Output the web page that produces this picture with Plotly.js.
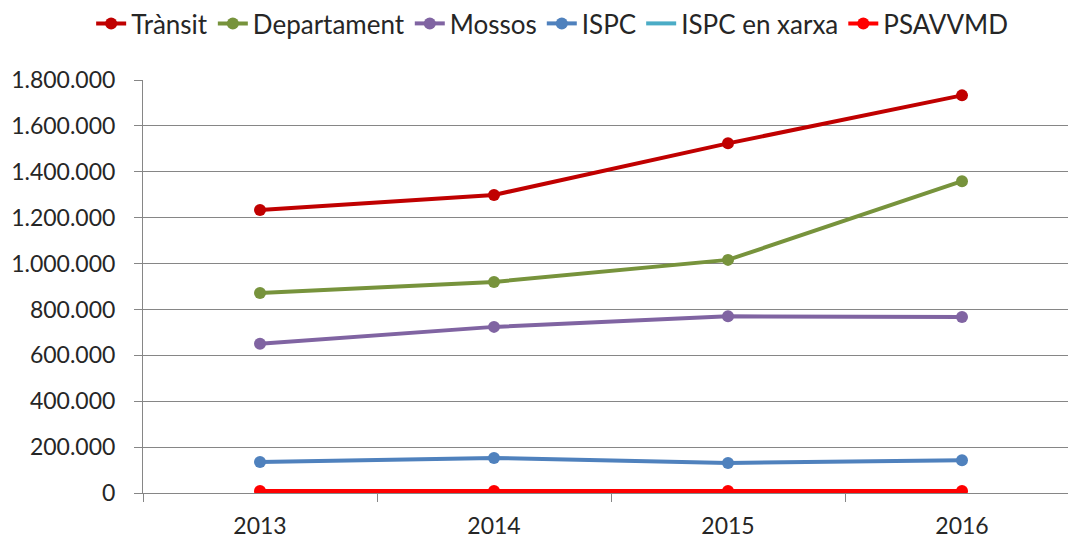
<!DOCTYPE html>
<html><head><meta charset="utf-8">
<script src="https://cdn.plot.ly/plotly-3.0.1.min.js"></script>
<style>body{margin:0;background:#fff}#chart{width:1068px;height:538px}</style>
</head><body><div id="chart"></div>
<script>
const years = ["2013", "2014", "2015", "2016"];
const transit = [1233000, 1299000, 1524000, 1733000];
const departament = [872000, 920000, 1016000, 1359000];
const mossos = [650000, 724000, 770000, 767000];
const ispc = [135000, 153000, 131000, 143000];
const ispcXarxa = [4000, 4000, 4000, 4000];
const psavvmd = [9000, 9000, 9000, 9000];
const yTicks = [0, 200000, 400000, 600000, 800000, 1000000, 1200000, 1400000, 1600000, 1800000];

const series = [
  {name: "Trànsit", y: transit, color: "#C00000", markers: true},
  {name: "Departament", y: departament, color: "#77933C", markers: true},
  {name: "Mossos", y: mossos, color: "#8064A2", markers: true},
  {name: "ISPC", y: ispc, color: "#4F81BD", markers: true},
  {name: "ISPC en xarxa", y: ispcXarxa, color: "#4BACC6", markers: false},
  {name: "PSAVVMD", y: psavvmd, color: "#FF0000", markers: true}
];
const traces = series.map(s => ({
  type: "scatter",
  mode: s.markers ? "lines+markers" : "lines",
  name: s.name,
  x: years,
  y: s.y,
  line: {color: s.color, width: 4},
  marker: {color: s.color, size: 12}
}));
const font = {family: "Lato, 'Open Sans', sans-serif", size: 23, color: "#262626"};
const legendFont = {family: "Lato, 'Open Sans', sans-serif", size: 26, color: "#262626"};
Plotly.newPlot("chart", traces, {
  width: 1068, height: 538,
  margin: {l: 143, r: 0, t: 80, b: 45},
  paper_bgcolor: "#fff", plot_bgcolor: "#fff",
  separators: ",.",
  font: font,
  showlegend: true,
  legend: {orientation: "h", x: 0.517, xref: "container", xanchor: "center", y: 1.0, yref: "container", yanchor: "top",
           font: legendFont, tracegroupgap: 0, itemclick: false, traceorder: "normal"},
  xaxis: {type: "category", range: [-0.5, 3.453], showgrid: false, zeroline: false,
          showline: true, linecolor: "#868686", linewidth: 1,
          ticks: "outside", tickson: "boundaries", ticklen: 8, tickcolor: "#868686",
          ticklabelstandoff: 12,
          tickfont: font, fixedrange: true},
  yaxis: {range: [0, 1800000], tickvals: yTicks, tickformat: ",d",
          showgrid: true, gridcolor: "#868686", gridwidth: 1, zeroline: false,
          showline: true, linecolor: "#868686", linewidth: 1,
          ticks: "outside", ticklen: 8, tickcolor: "#868686",
          ticklabelstandoff: 14,
          tickfont: font, fixedrange: true}
}, {displayModeBar: false, staticPlot: true});
</script></body></html>
